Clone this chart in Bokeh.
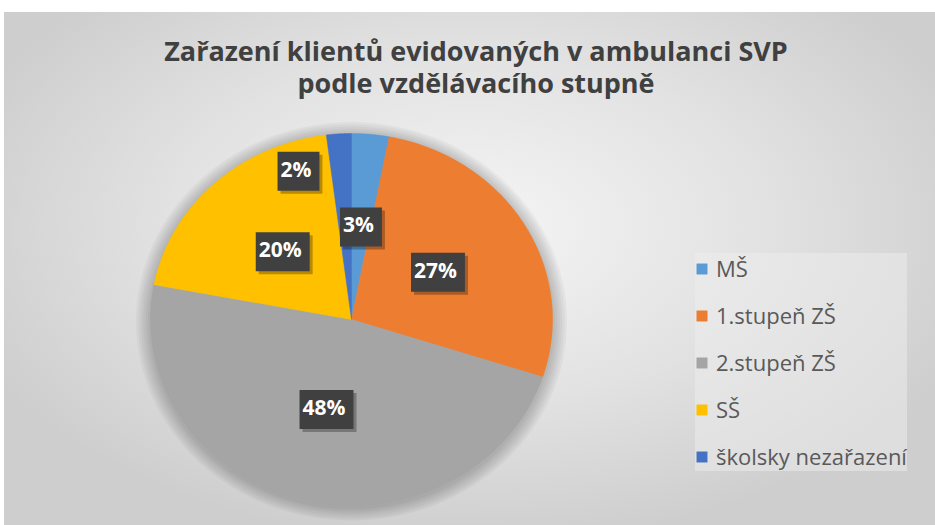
import numpy as np
from bokeh.plotting import figure
from bokeh.models import Range1d, Label, Legend, LegendItem, ColumnDataSource
from bokeh.core.properties import value
from bokeh.embed import file_html
from bokeh.resources import INLINE

# ---- data ----
categories = ["MŠ", "1.stupeň ZŠ", "2.stupeň ZŠ", "SŠ", "školsky nezařazení"]
shares = [3, 27, 48, 20, 2]
pct_labels = ["3%", "27%", "48%", "20%", "2%"]
colors = ["#5B9BD5", "#ED7D31", "#A5A5A5", "#FFC000", "#4472C4"]
title_lines = ["Zařazení klientů evidovaných v ambulanci SVP", "podle vzdělávacího stupně"]

# ---- layout (pixels) ----
W, H = 931, 513
CX, CY = 347, 206      # pie centre inside the frame (from left, from bottom)
RX, RY = 201, 186      # pie radii in pixels (slightly stretched like the original)
label_r = [0.5, 0.5, 0.5, 0.5, 0.84]      # best-fit style label radii
label_turn = [0, 0, 0, 0, 14.7]           # degrees counter-clockwise, nudge for the crowded small label
FONT = "Open Sans"

p = figure(width=W, height=H, output_backend="svg", toolbar_location=None,
           x_range=Range1d(-CX / RX, (W - CX) / RX),
           y_range=Range1d(-CY / RY, (H - CY) / RY),
           min_border=0, outline_line_color=None)
p.margin = (12, 0, 0, 4)
p.axis.visible = False
p.grid.visible = False
p.background_fill_alpha = 0
p.border_fill_alpha = 0
p.styles = {"background": "radial-gradient(ellipse 58% 62% at 50% 42%, #f5f5f5 0%, #e2e2e2 55%, #cecece 100%)"}

# ---- soft shadow behind the pie ----
for k in range(6):
    s = 1.0 + 0.012 * (k + 1)
    p.ellipse(x=0, y=-0.01, width=2 * s, height=2 * s, fill_color="#000000",
              fill_alpha=0.035, line_color=None)

# ---- pie slices as patches on a unit circle (the scales stretch it) ----
total = float(sum(shares))
cum = np.concatenate([[0.0], np.cumsum(shares) / total])
xs, ys, mids = [], [], []
for i in range(len(shares)):
    a0 = np.pi / 2 - 2 * np.pi * cum[i]
    a1 = np.pi / 2 - 2 * np.pi * cum[i + 1]
    t = np.linspace(a0, a1, 80)
    xs.append([0.0] + list(np.cos(t)))
    ys.append([0.0] + list(np.sin(t)))
    mids.append((a0 + a1) / 2)

src = ColumnDataSource(dict(xs=xs, ys=ys, color=colors, cat=categories))
r = p.patches("xs", "ys", source=src, fill_color="color", line_color="color", line_width=0.5)

# ---- data labels ----
ang = [mids[i] + np.deg2rad(label_turn[i]) for i in range(len(shares))]
lx = [label_r[i] * np.cos(ang[i]) for i in range(len(shares))]
ly = [label_r[i] * np.sin(ang[i]) for i in range(len(shares))]
lsrc = ColumnDataSource(dict(x=lx, y=ly, text=pct_labels))
# shadow
p.text("x", "y", text="text", source=lsrc, x_offset=3, y_offset=3,
       text_align="center", text_baseline="middle", text_font=value(FONT),
       text_font_style="bold", text_font_size="21px", text_alpha=0,
       background_fill_color="#000000", background_fill_alpha=0.28, padding=(3, 8, 3, 8))
p.text("x", "y", text="text", source=lsrc,
       text_align="center", text_baseline="middle", text_font=value(FONT),
       text_font_style="bold", text_font_size="21px", text_color="#ffffff",
       background_fill_color="#404040", padding=(3, 8, 3, 8))

# ---- title ----
title_base = [H - 38, H - 70]
for line, yb in zip(title_lines, title_base):
    p.add_layout(Label(x=W / 2 + 6, y=yb, x_units="screen", y_units="screen", text=line,
                       text_align="center", text_baseline="alphabetic",
                       text_font=FONT, text_font_style="bold", text_font_size="27px",
                       text_color="#404040"))

# ---- legend ----
legend = Legend(items=[LegendItem(label=c, renderers=[r], index=i) for i, c in enumerate(categories)],
                location=(691, 54), orientation="vertical",
                label_text_font=FONT, label_text_font_size="22px", label_text_color="#595959",
                glyph_width=13, glyph_height=13, label_height=20, spacing=17,
                padding=12, margin=0, label_standoff=8,
                background_fill_color="#eeeeee", background_fill_alpha=0.5,
                border_line_color=None)
p.add_layout(legend)

open("out.html", "w").write(file_html(p, INLINE))
